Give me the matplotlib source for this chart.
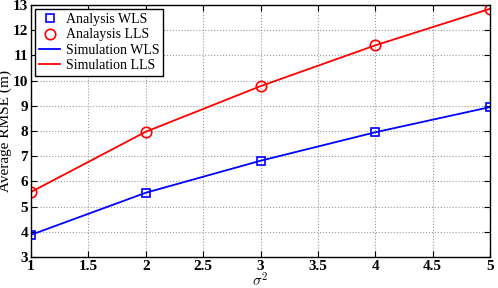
import numpy as np
import matplotlib.pyplot as plt

sigma2 = [1, 2, 3, 4, 5]
wls = [3.88, 5.55, 6.82, 7.95, 8.95]
lls = [5.58, 7.97, 9.78, 11.40, 12.85]

plt.rcParams['font.family'] = ['Liberation Serif', 'DejaVu Serif']
plt.rcParams['mathtext.fontset'] = 'cm'

fig = plt.figure(figsize=(4.98, 2.88), dpi=100)
ax = fig.add_axes([0.0622, 0.1076, 0.922, 0.875])

ax.plot(sigma2, wls, 's', color='blue', mfc='none', ms=6, mew=1.2, label='Analysis WLS')
ax.plot(sigma2, lls, 'o', color='red', mfc='none', ms=7.5, mew=1.2, label='Analaysis LLS')
ax.plot(sigma2, wls, '-', color='blue', lw=1.3, label='Simulation WLS')
ax.plot(sigma2, lls, '-', color='red', lw=1.3, label='Simulation LLS')

ax.set_xlim(1, 5)
ax.set_ylim(3, 13)
ax.set_xticks([1, 1.5, 2, 2.5, 3, 3.5, 4, 4.5, 5])
ax.set_xticklabels(['1', '1.5', '2', '2.5', '3', '3.5', '4', '4.5', '5'])
ax.set_yticks(range(3, 14))
ax.tick_params(direction='in', top=True, right=True, length=4, labelsize=11, pad=2)
for lab in ax.get_xticklabels() + ax.get_yticklabels():
    lab.set_fontweight('bold')
ax.grid(True, linestyle=':', color='#999999', lw=0.8)
for s in ax.spines.values():
    s.set_linewidth(1.0)

ax.set_xlabel(r'$\sigma^2$', fontsize=11, labelpad=-1)
ax.set_ylabel('Average RMSE (m)', fontsize=11)
ax.yaxis.set_label_coords(-0.042, 0.5)

leg = ax.legend(loc='upper left', fontsize=10, fancybox=False, framealpha=1,
                edgecolor='black', borderaxespad=0.3, handlelength=1.5,
                labelspacing=0.15, borderpad=0.3, handletextpad=0.4)
leg.get_frame().set_linewidth(1.0)

fig.savefig('out.png', dpi=100)
